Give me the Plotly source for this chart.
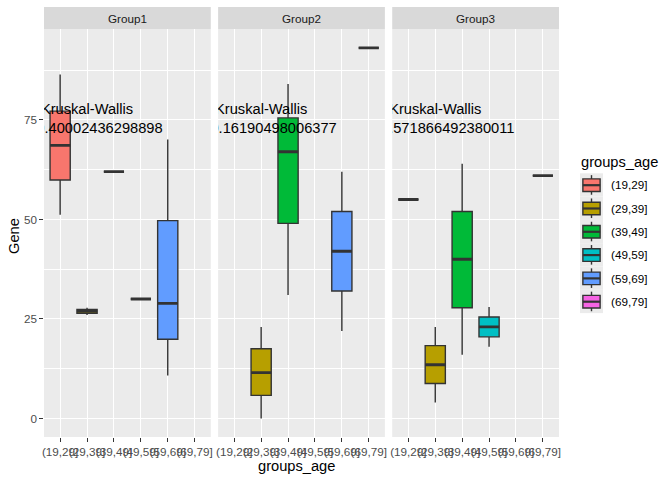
import plotly.graph_objects as go

# ---------------- data ----------------
age_groups = ["(19,29]", "(29,39]", "(39,49]", "(49,59]", "(59,69]", "(69,79]"]
facets = ["Group1", "Group2", "Group3"]
fill_colors = ["#F8766D", "#B79F00", "#00BA38", "#00BFC4", "#619CFF", "#F564E3"]

group1_ages = ["(19,29]", "(29,39]", "(39,49]", "(49,59]", "(59,69]"]
group1_lower = [51.2, 26.0, 62.0, 30.0, 10.8]
group1_q1 = [59.9, 26.4, 62.0, 30.0, 19.9]
group1_median = [68.6, 26.9, 62.0, 30.0, 28.9]
group1_q3 = [77.2, 27.4, 62.0, 30.0, 49.7]
group1_upper = [86.4, 27.8, 62.0, 30.0, 70.1]

group2_ages = ["(29,39]", "(39,49]", "(59,69]", "(69,79]"]
group2_lower = [0.0, 31.0, 22.0, 93.1]
group2_q1 = [5.8, 49.0, 32.0, 93.1]
group2_median = [11.5, 67.0, 42.0, 93.1]
group2_q3 = [17.5, 75.5, 52.0, 93.1]
group2_upper = [23.0, 84.0, 62.0, 93.1]

group3_ages = ["(19,29]", "(29,39]", "(39,49]", "(49,59]", "(69,79]"]
group3_lower = [55.0, 4.0, 16.0, 18.0, 61.0]
group3_q1 = [55.0, 8.8, 27.8, 20.5, 61.0]
group3_median = [55.0, 13.5, 40.0, 23.0, 61.0]
group3_q3 = [55.0, 18.3, 52.0, 25.5, 61.0]
group3_upper = [55.0, 23.0, 64.0, 28.0, 61.0]

p_values = ["0.40002436298898", "0.16190498006377", "0.571866492380011"]
label_x = "(29,39]"
label_y = 75

y_tick_vals = [0, 25, 50, 75]

facet_data = [
    (group1_ages, group1_lower, group1_q1, group1_median, group1_q3, group1_upper),
    (group2_ages, group2_lower, group2_q1, group2_median, group2_q3, group2_upper),
    (group3_ages, group3_lower, group3_q1, group3_median, group3_q3, group3_upper),
]

# ---------------- layout geometry ----------------
W, H = 672, 480
L, R, T, B = 44, 113, 7, 43
PW, PH = W - L - R, H - T - B
FONT = "Liberation Sans, Arial, Helvetica, sans-serif"
OUTLINE = "#333333"
BOX_W = 0.75


def fx(px):
    return (px - L) / PW


def fy(py):
    return (T + PH - py) / PH


gap = 7.33
panel_w = (PW - 2 * gap) / 3
strip_bottom_px = 29.3
y_top = fy(strip_bottom_px)

all_low = [v for fd in facet_data for v in fd[1]]
all_high = [v for fd in facet_data for v in fd[5]]
ymin, ymax = min(all_low), max(all_high)
span = ymax - ymin
y_range = [ymin - 0.05 * span, ymax + 0.05 * span]
x_range = [1 - 0.6, len(age_groups) + 0.6]

fig = go.Figure()
shapes = []
annotations = []

for i, (fname, fd) in enumerate(zip(facets, facet_data)):
    ax = "" if i == 0 else str(i + 1)
    xref, yref = "x" + ax, "y" + ax
    ages, lo, q1, med, q3, hi = fd
    med_x, med_y = [], []
    for k, age in enumerate(ages):
        pos = age_groups.index(age) + 1
        color = fill_colors[age_groups.index(age)]
        fig.add_trace(go.Box(
            x=[pos], q1=[q1[k]], median=[med[k]], q3=[q3[k]],
            lowerfence=[lo[k]], upperfence=[hi[k]],
            width=BOX_W, fillcolor=color, line=dict(color=OUTLINE, width=1.4),
            whiskerwidth=0, boxpoints=False, showlegend=False,
            hoverinfo="skip", xaxis=xref, yaxis=yref,
        ))
        med_x += [pos - BOX_W / 2, pos + BOX_W / 2, None]
        med_y += [med[k], med[k], None]
    fig.add_trace(go.Scatter(
        x=med_x, y=med_y, mode="lines", line=dict(color=OUTLINE, width=2.85),
        showlegend=False, hoverinfo="skip", xaxis=xref, yaxis=yref,
    ))
    fig.add_trace(go.Scatter(
        x=[age_groups.index(label_x) + 1], y=[label_y], mode="text",
        text=["Kruskal-Wallis<br>p = " + p_values[i]],
        textposition="middle center",
        textfont=dict(family=FONT, size=14.67, color="black"),
        cliponaxis=True, showlegend=False, hoverinfo="skip",
        xaxis=xref, yaxis=yref,
    ))

    x0 = i * (panel_w + gap) / PW
    x1 = (i * (panel_w + gap) + panel_w) / PW
    fig.update_layout(**{
        "xaxis" + ax: dict(
            domain=[x0, x1], range=x_range, anchor=yref,
            tickmode="array", tickvals=list(range(1, len(age_groups) + 1)),
            ticktext=age_groups, tickangle=0,
            ticks="outside", ticklen=3.67, tickwidth=1.07, tickcolor=OUTLINE,
            tickfont=dict(family=FONT, size=11.7, color="#4D4D4D"),
            showgrid=True, gridcolor="white", gridwidth=1.42,
            zeroline=False, showline=False, automargin=False, fixedrange=True,
        ),
        "yaxis" + ax: dict(
            domain=[0, y_top], range=y_range, anchor=xref,
            tickmode="array", tickvals=y_tick_vals,
            showticklabels=(i == 0),
            ticks="outside" if i == 0 else "", ticklen=3.67, tickwidth=1.07,
            tickcolor=OUTLINE,
            tickfont=dict(family=FONT, size=11.7, color="#4D4D4D"),
            showgrid=True, gridcolor="white", gridwidth=1.42,
            minor=dict(tickmode="linear", tick0=12.5, dtick=25, showgrid=True,
                       gridcolor="white", gridwidth=0.71, ticks=""),
            zeroline=False, showline=False, automargin=False, fixedrange=True,
        ),
    })
    # strip
    shapes.append(dict(type="rect", xref="paper", yref="paper",
                       x0=x0, x1=x1, y0=y_top, y1=1.0,
                       fillcolor="#D9D9D9", line=dict(width=0), layer="below"))
    annotations.append(dict(xref="paper", yref="paper", x=(x0 + x1) / 2,
                            y=(y_top + 1.0) / 2, text=fname, showarrow=False,
                            xanchor="center", yanchor="middle",
                            font=dict(family=FONT, size=11.7, color="#1A1A1A")))

# axis titles
annotations.append(dict(xref="paper", yref="paper", x=0.49, y=fy(466),
                        text="groups_age", showarrow=False, xanchor="center",
                        yanchor="middle",
                        font=dict(family=FONT, size=14.67, color="black")))
annotations.append(dict(xref="paper", yref="paper", x=fx(14), y=fy(236),
                        text="Gene", showarrow=False, textangle=-90,
                        xanchor="center", yanchor="middle",
                        font=dict(family=FONT, size=14.67, color="black")))

# legend (drawn manually, ggplot style)
annotations.append(dict(xref="paper", yref="paper", x=fx(579), y=fy(162),
                        text="groups_age", showarrow=False, xanchor="left",
                        yanchor="middle",
                        font=dict(family=FONT, size=14.67, color="black")))
key_left, key_w, key_h, key_top0 = 580, 23, 23.3, 173.3
for k, (age, color) in enumerate(zip(age_groups, fill_colors)):
    top = key_top0 + k * key_h
    bot = top + key_h
    cx = key_left + key_w / 2
    shapes.append(dict(type="rect", xref="paper", yref="paper",
                       x0=fx(key_left), x1=fx(key_left + key_w),
                       y0=fy(bot), y1=fy(top), fillcolor="#EBEBEB",
                       line=dict(width=0)))
    shapes.append(dict(type="line", xref="paper", yref="paper",
                       x0=fx(cx), x1=fx(cx), y0=fy(top + 0.08 * key_h),
                       y1=fy(bot - 0.08 * key_h),
                       line=dict(color=OUTLINE, width=1.4)))
    shapes.append(dict(type="rect", xref="paper", yref="paper",
                       x0=fx(key_left + 0.125 * key_w), x1=fx(key_left + 0.875 * key_w),
                       y0=fy(top + 0.78 * key_h), y1=fy(top + 0.24 * key_h),
                       fillcolor=color, line=dict(color=OUTLINE, width=1.4)))
    shapes.append(dict(type="line", xref="paper", yref="paper",
                       x0=fx(key_left + 0.125 * key_w), x1=fx(key_left + 0.875 * key_w),
                       y0=fy(top + 0.51 * key_h), y1=fy(top + 0.51 * key_h),
                       line=dict(color=OUTLINE, width=2.2)))
    annotations.append(dict(xref="paper", yref="paper", x=fx(609),
                            y=fy(top + key_h / 2), text=age, showarrow=False,
                            xanchor="left", yanchor="middle",
                            font=dict(family=FONT, size=11.7, color="black")))

fig.update_layout(
    width=W, height=H,
    margin=dict(l=L, r=R, t=T, b=B, autoexpand=False),
    paper_bgcolor="white", plot_bgcolor="#EBEBEB",
    boxmode="overlay", showlegend=False,
    shapes=shapes, annotations=annotations,
    font=dict(family=FONT),
)

fig.write_html("out.html")
